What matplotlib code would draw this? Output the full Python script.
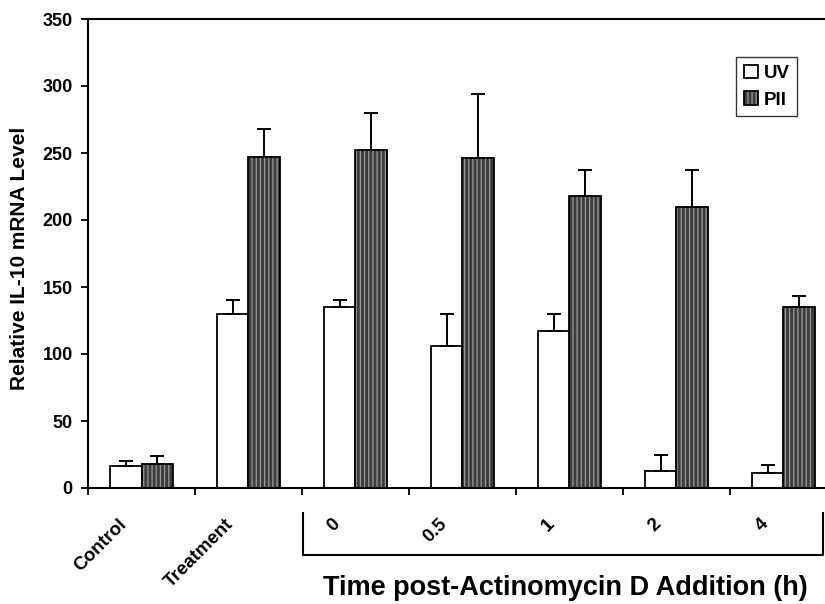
import numpy as np
import matplotlib
matplotlib.use("Agg")
import matplotlib.pyplot as plt

plt.rcParams['font.family'] = ['Liberation Sans', 'DejaVu Sans']

# data
groups = ["Control", "Treatment", "0", "0.5", "1", "2", "4"]
uv = [16.5, 130, 135, 106, 117, 13, 11]
uv_top = [20, 140, 140, 130, 130, 25, 17]
pii = [18, 247, 252, 246, 218, 210, 135]
pii_top = [24, 268, 280, 294, 237, 237, 143]

uv_err = np.array(uv_top) - np.array(uv)
pii_err = np.array(pii_top) - np.array(pii)

fig = plt.figure(figsize=(8.25, 6.04), dpi=100)
ax = fig.add_axes([88/825, 116/604, 749/825, 469/604])

x = np.arange(len(groups)) + 0.5
w = 0.29

# UV bars, white
b1 = ax.bar(x - w/2, uv, w, color="white", edgecolor="black", linewidth=1.3, zorder=2)
ax.errorbar(x - w/2, uv, yerr=[np.zeros(len(uv)), uv_err], fmt="none",
            ecolor="black", elinewidth=1.4, capsize=5, capthick=1.4, zorder=3)

# PII bars, dark stippled with light vertical stripes
plt.rcParams['hatch.linewidth'] = 0.9
b2 = ax.bar(x + w/2, pii, w, color="#3c3c3c", edgecolor="#9a9a9a", hatch="||||",
            linewidth=0, zorder=2)
b2e = ax.bar(x + w/2, pii, w, fill=False, edgecolor="black", linewidth=1.3, zorder=2.5)
ax.errorbar(x + w/2, pii, yerr=[np.zeros(len(pii)), pii_err], fmt="none",
            ecolor="black", elinewidth=1.4, capsize=5, capthick=1.4, zorder=3)

ax.set_xlim(0, len(groups))
ax.set_ylim(0, 350)
ax.set_yticks(np.arange(0, 351, 50))
ax.set_xticks(np.arange(0, len(groups) + 1))
ax.set_xticklabels([])
ax.tick_params(axis="both", direction="out", length=5, width=1.3)
ax.tick_params(axis="y", labelsize=13, pad=6)
for t in ax.get_yticklabels():
    t.set_fontweight("bold")
for s in ax.spines.values():
    s.set_linewidth(1.5)

# rotated category labels
for xi, g in zip(x, groups):
    ax.text(xi - 0.11, -0.058, g, transform=ax.get_xaxis_transform(),
            rotation=45, ha="right", va="top", fontsize=13.5, fontweight="bold")

# bracket under the time points
tr = ax.get_xaxis_transform()
ax.plot([2.01, 2.01, 6.87, 6.87], [-0.053, -0.143, -0.143, -0.053], color="black",
        lw=1.5, transform=tr, clip_on=False)

fig.text(565/825, 1 - 588/604, "Time post-Actinomycin D Addition (h)", ha="center",
         va="center", fontsize=19.5, fontweight="bold")
fig.text(20/825, 1 - 258/604, "Relative IL-10 mRNA Level", rotation=90, ha="center",
         va="center", fontsize=15, fontweight="bold")

leg = ax.legend([b1, (b2, b2e)], ["UV", "PII"], loc="upper right",
                bbox_to_anchor=((797 - 88)/749, (488 - 57)/469),
                prop={"weight": "bold", "size": 13.5}, frameon=True, fancybox=False,
                handlelength=0.75, handleheight=0.75, handletextpad=0.3,
                borderpad=0.4, labelspacing=0.5, borderaxespad=0)
leg.get_frame().set_edgecolor("black")
leg.get_frame().set_linewidth(1.0)

fig.savefig("out.png", dpi=100)
